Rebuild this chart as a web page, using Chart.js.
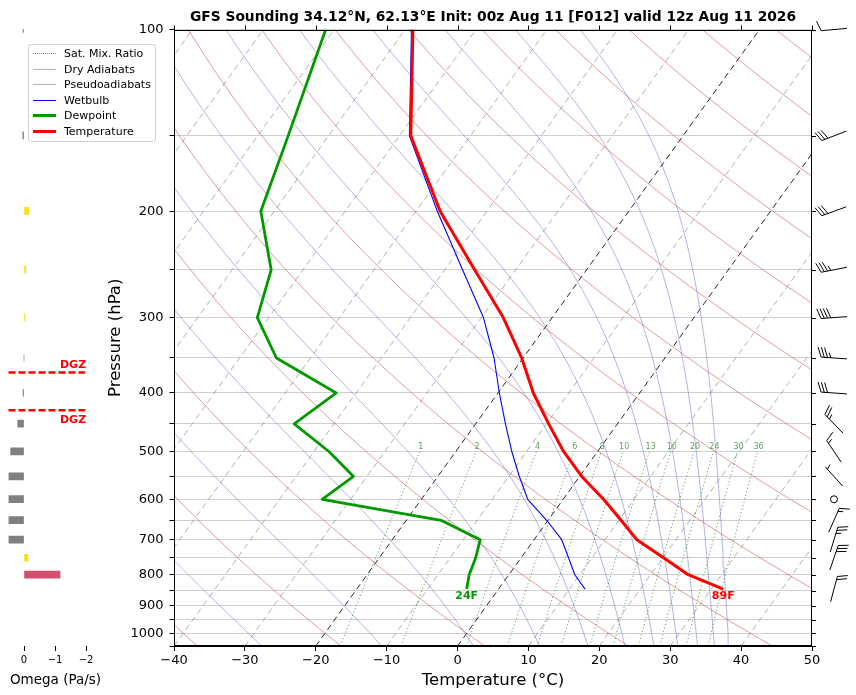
<!DOCTYPE html>
<html>
<head>
<meta charset="utf-8">
<title>GFS Sounding</title>
<script src="https://cdn.jsdelivr.net/npm/chart.js@4.4.1/dist/chart.umd.min.js"></script>
<style>
  html, body { margin: 0; padding: 0; background: #fff; }
  #wrap { position: relative; width: 856px; height: 695px; font-family: "DejaVu Sans", sans-serif; }
  #omega, #skewt { position: absolute; left: 0; top: 0; }
  #legend {
    position: absolute; left: 28px; top: 44px; width: 126px; height: 95px;
    border: 1px solid #cfcfcf; border-radius: 3px; background: rgba(255,255,255,0.85);
    padding-top: 1px; box-sizing: content-box; z-index: 5;
  }
  .row { display: flex; align-items: center; height: 15.5px; font-size: 11px; color: #000; }
  .sample { margin-left: 4px; width: 23px; height: 0; }
  .row span { margin-left: 8px; white-space: nowrap; }
</style>
</head>
<body>
<div id="wrap">
  <canvas id="omega" width="110" height="695"></canvas>
  <canvas id="skewt" width="856" height="695"></canvas>
  <div id="legend"></div>
</div>
<script>
// ---- sounding data ----
const levels      = [845, 800, 750, 700, 650, 600, 550, 500, 450, 400, 350, 300, 250, 200, 150, 100];
const temperature = [31.7, 25.3, 20.1, 14.5, 10.3, 5.7, 0.3, -4.8, -9.7, -15.0, -20.2, -26.9, -35.8, -46.6, -58.4, -68.9];
const dewpoint    = [-4.5, -5.6, -6.4, -7.6, -15.1, -34.0, -31.9, -37.9, -45.6, -42.8, -54.8, -61.6, -64.5, -71.9, -75.7, -81.2];
const wetbulb     = [12.2, 9.3, 6.7, 3.9, -0.2, -5.0, -8.5, -12.1, -15.8, -19.8, -24.1, -29.7, -37.5, -47.0, -58.6, -69.1];

// omega (Pa/s)
const omegaLevels = [100, 150, 200, 250, 300, 350, 400, 450, 500, 550, 600, 650, 700, 750, 800];
const omegaValues = [0.03, 0.04, -0.16, -0.06, -0.03, 0, 0.03, 0.2, 0.43, 0.5, 0.5, 0.5, 0.5, -0.13, -1.16];

// winds (deg, kt)
const windLevels = [100, 150, 200, 250, 300, 350, 400, 450, 500, 550, 600, 650, 700, 750, 845];
const windDir    = [265, 249, 250, 259, 266, 274, 274, 316, 326, 318, 0, 24, 17, 19, 15];
const windSpeed  = [10, 30, 30, 35, 40, 35, 30, 25, 15, 5, 0, 15, 25, 30, 20];

// ---- axes / reference lines ----
const tempTicks = [-40, -30, -20, -10, 0, 10, 20, 30, 40, 50];
const pressureTicks = [100, 150, 200, 250, 300, 350, 400, 450, 500, 550, 600, 650, 700, 750, 800, 850, 900, 950, 1000, 1050];
const omegaTicks = [0, -1, -2];
const isotherms = [-120, -110, -100, -90, -80, -70, -60, -50, -40, -30, -10, 10, 20, 30, 40, 50];
const keyIsotherms = [-20, 0];
const dryAdiabatT0 = [-40, -20, 0, 20, 40, 60, 80, 100, 120, 140, 160, 180, 200, 220, 240, 260];
const pseudoThetaE = [-50, -30, -10, 10, 30, 50, 70, 90, 110, 130, 150, 170];
const mixingRatios = [1, 2, 4, 6, 8, 10, 13, 16, 20, 24, 30, 36];
const dgzTemps = [-12, -18];

const TITLE = 'GFS Sounding 34.12°N, 62.13°E Init: 00z Aug 11 [F012] valid 12z Aug 11 2026';
const FONT = '"DejaVu Sans", sans-serif';
const P_TOP = 100;
const P_BOTTOM = 1050;
const MIX_TOP = 500;
const SKEW = 61.3;   // deg C of shift per decade of pressure

Chart.defaults.font.family = FONT;
Chart.defaults.color = '#000';

function skewX(t, p) {
  return t + SKEW * Math.log10(P_BOTTOM / p);
}

function logSpaced(p0, p1, n) {
  const out = [];
  for (let i = 0; i < n; i++) out.push(p0 * Math.pow(p1 / p0, i / (n - 1)));
  return out;
}

function minusSign(v) {
  return v < 0 ? '\u2212' + Math.abs(v) : String(v);
}

function satVapor(tc) {
  return 6.112 * Math.exp(17.67 * tc / (tc + 243.5));
}

function thetaESat(tK, p) {
  const es = satVapor(tK - 273.15);
  if (es >= p) return Infinity;
  const r = 622 * es / (p - es);
  return tK * Math.pow(1000 / p, 0.2854 * (1 - 0.00028 * r)) *
    Math.exp((3.376 / tK - 0.00254) * r * (1 + 0.00081 * r));
}

function tempOnPseudo(thetaEK, p) {
  let lo = 120, hi = 360;
  for (let k = 0; k < 50; k++) {
    const mid = (lo + hi) / 2;
    if (thetaESat(mid, p) > thetaEK) hi = mid; else lo = mid;
  }
  return (lo + hi) / 2 - 273.15;
}

function dewFromMixing(wgkg, p) {
  const w = wgkg / 1000;
  const e = w * p / (0.622 + w);
  const l = Math.log(e / 6.112);
  return 243.5 * l / (17.67 - l);
}

function pressureAtTemp(target) {
  for (let i = 0; i < levels.length - 1; i++) {
    const t0 = temperature[i], t1 = temperature[i + 1];
    if ((t0 - target) * (t1 - target) <= 0 && t0 !== t1) {
      const f = (target - t0) / (t1 - t0);
      const l0 = Math.log10(levels[i]), l1 = Math.log10(levels[i + 1]);
      return Math.pow(10, l0 + f * (l1 - l0));
    }
  }
  return null;
}

function omegaColor(v) {
  if (v >= 0) return '#808080';
  if (v > -0.5) return '#f5e11e';
  return '#d4506e';
}

function toF(c) {
  return Math.round(c * 9 / 5 + 32) + 'F';
}

const REF_P = logSpaced(P_BOTTOM, P_TOP, 48);
const MIX_P = logSpaced(P_BOTTOM, MIX_TOP, 12);

function lineSet(points, color, width, dash, order) {
  return {
    data: points, borderColor: color, borderWidth: width, borderDash: dash || [],
    pointRadius: 0, fill: false, tension: 0, clip: 0, order: order,
    borderJoinStyle: 'round'
  };
}

const datasets = [];

// sounding profiles
datasets.push(lineSet(levels.map((p, i) => ({ x: skewX(temperature[i], p), y: p })), '#ff0000', 3, null, 0));
datasets.push(lineSet(levels.map((p, i) => ({ x: skewX(dewpoint[i], p), y: p })), '#009a00', 2.8, null, 1));
datasets.push(lineSet(levels.map((p, i) => ({ x: skewX(wetbulb[i], p), y: p })), '#0000ff', 1.1, null, 2));

// mixing ratio lines
mixingRatios.forEach(w => {
  datasets.push(lineSet(MIX_P.map(p => ({ x: skewX(dewFromMixing(w, p), p), y: p })),
    'rgba(0,128,0,0.65)', 1, [1.2, 2.4], 3));
});

// moist (pseudo) adiabats
pseudoThetaE.forEach(th => {
  const thK = th + 273.15;
  datasets.push(lineSet(REF_P.map(p => ({ x: skewX(tempOnPseudo(thK, p), p), y: p })),
    'rgba(70,70,200,0.45)', 0.9, null, 4));
});

// dry adiabats
dryAdiabatT0.forEach(t0 => {
  const th = t0 + 273.15;
  datasets.push(lineSet(REF_P.map(p => ({ x: skewX(th * Math.pow(p / 1000, 0.2857) - 273.15, p), y: p })),
    'rgba(200,60,60,0.5)', 1, null, 4));
});

// isotherms
isotherms.forEach(t => {
  datasets.push(lineSet([P_BOTTOM, P_TOP].map(p => ({ x: skewX(t, p), y: p })),
    'rgba(120,120,120,0.65)', 0.9, [6, 4], 5));
});
keyIsotherms.forEach(t => {
  datasets.push(lineSet([P_BOTTOM, P_TOP].map(p => ({ x: skewX(t, p), y: p })),
    '#111', 0.9, [6, 4], 5));
});

function drawBarb(ctx, cx, cy, dirDeg, speed) {
  const L = 26, spacing = 3.25, full = 9.8, lean = 3.6;
  ctx.save();
  ctx.strokeStyle = '#000';
  ctx.lineWidth = 1;
  let s = Math.round(speed / 5) * 5;
  if (s < 5) {
    ctx.beginPath();
    ctx.arc(cx, cy, 3.5, 0, Math.PI * 2);
    ctx.stroke();
    ctx.restore();
    return;
  }
  const a = dirDeg * Math.PI / 180;
  const ux = Math.sin(a), uy = -Math.cos(a);
  const px = -uy, py = ux;
  const tipX = cx + ux * L / 2, tipY = cy + uy * L / 2;
  ctx.beginPath();
  ctx.moveTo(cx - ux * L / 2, cy - uy * L / 2);
  ctx.lineTo(tipX, tipY);
  const flags = Math.floor(s / 50); s -= flags * 50;
  const fulls = Math.floor(s / 10); s -= fulls * 10;
  const half = s >= 5;
  let d = 0;
  for (let i = 0; i < flags; i++) {
    const bx = tipX - ux * d, by = tipY - uy * d;
    ctx.moveTo(bx, by);
    ctx.lineTo(bx + px * full + ux * lean, by + py * full + uy * lean);
    ctx.lineTo(bx - ux * 6.5, by - uy * 6.5);
    d += 6.5 + spacing;
  }
  for (let i = 0; i < fulls; i++) {
    const bx = tipX - ux * d, by = tipY - uy * d;
    ctx.moveTo(bx, by);
    ctx.lineTo(bx + px * full + ux * lean, by + py * full + uy * lean);
    d += spacing;
  }
  if (half) {
    if (flags + fulls === 0) d += spacing;
    const bx = tipX - ux * d, by = tipY - uy * d;
    ctx.moveTo(bx, by);
    ctx.lineTo(bx + px * full / 2 + ux * lean / 2, by + py * full / 2 + uy * lean / 2);
  }
  ctx.stroke();
  ctx.restore();
}

const skewDecor = {
  id: 'skewDecor',
  afterDraw(chart) {
    const ctx = chart.ctx;
    const { left, right, top, bottom } = chart.chartArea;
    const xs = chart.scales.x, ys = chart.scales.y;
    ctx.save();
    // frame and outer ticks
    ctx.strokeStyle = '#000';
    ctx.lineWidth = 1;
    const l = Math.round(left) + 0.5, r = Math.round(right) - 0.5;
    const t = Math.round(top) + 0.5, b = Math.round(bottom) - 0.5;
    ctx.strokeRect(l, t, r - l, b - t);
    ctx.beginPath();
    tempTicks.forEach(v => {
      const x = Math.round(xs.getPixelForValue(v)) + 0.5;
      ctx.moveTo(x, t); ctx.lineTo(x, t - 5);
    });
    pressureTicks.forEach(p => {
      const y = Math.round(ys.getPixelForValue(p)) + 0.5;
      ctx.moveTo(r, y); ctx.lineTo(r + 4.5, y);
    });
    ctx.stroke();

    // mixing ratio labels
    ctx.font = '8px ' + FONT;
    ctx.fillStyle = 'rgba(40,130,40,0.75)';
    ctx.textAlign = 'center';
    ctx.textBaseline = 'bottom';
    const yMix = ys.getPixelForValue(MIX_TOP);
    mixingRatios.forEach(w => {
      const x = xs.getPixelForValue(skewX(dewFromMixing(w, MIX_TOP), MIX_TOP));
      ctx.fillText(String(w), x + 1, yMix - 0.5);
    });

    // surface labels
    ctx.font = 'bold 11px ' + FONT;
    ctx.textBaseline = 'top';
    const ySfc = ys.getPixelForValue(levels[0]);
    ctx.fillStyle = '#009a00';
    ctx.fillText(toF(dewpoint[0]), xs.getPixelForValue(skewX(dewpoint[0], levels[0])), ySfc + 2);
    ctx.fillStyle = '#ff0000';
    ctx.fillText(toF(temperature[0]), xs.getPixelForValue(skewX(temperature[0], levels[0])), ySfc + 2);

    // wind barbs
    const bx = right + 22;
    windLevels.forEach((p, i) => {
      drawBarb(ctx, bx, ys.getPixelForValue(p), windDir[i], windSpeed[i]);
    });
    ctx.restore();
  }
};

new Chart(document.getElementById('skewt'), {
  type: 'line',
  data: { datasets: datasets },
  options: {
    responsive: false,
    animation: false,
    events: [],
    layout: { padding: { left: 103, right: 44, top: 0, bottom: 0 } },
    plugins: {
      legend: { display: false },
      tooltip: { enabled: false },
      title: {
        display: true, text: TITLE, fullSize: false, color: '#000',
        font: { family: FONT, size: 13.8, weight: 'bold' },
        padding: { top: 9.5, bottom: 3.5 }
      }
    },
    scales: {
      x: {
        type: 'linear', min: -40, max: 50,
        afterBuildTicks: s => { s.ticks = tempTicks.map(v => ({ value: v })); },
        afterFit: s => { s.height = 49; },
        grid: { drawOnChartArea: false, drawTicks: true, tickLength: 5, color: '#000' },
        border: { display: true, color: '#000', width: 1 },
        ticks: { font: { size: 13 }, color: '#000', padding: 2, maxRotation: 0, autoSkip: false, callback: v => minusSign(v) },
        title: { display: true, text: 'Temperature (°C)', font: { size: 16.5 }, color: '#000', padding: { top: 0, bottom: 4 } }
      },
      y: {
        type: 'logarithmic', reverse: true, min: P_TOP, max: P_BOTTOM,
        afterBuildTicks: s => { s.ticks = pressureTicks.map(v => ({ value: v })); },
        afterFit: s => { s.width = 71; },
        grid: { color: '#cfcfcf', lineWidth: 1, tickColor: '#000', tickLength: 4.5, drawTicks: true },
        border: { display: true, color: '#000', width: 1 },
        ticks: {
          font: { size: 13 }, color: '#000', padding: 6, autoSkip: false,
          callback: v => (v % 100 === 0 && v <= 1000) ? String(v) : ''
        },
        title: { display: true, text: 'Pressure (hPa)', font: { size: 16.5 }, color: '#000', padding: { top: 3, bottom: 4 } }
      }
    }
  },
  plugins: [skewDecor]
});

// ---- omega panel ----
const dgzPlugin = {
  id: 'dgz',
  afterDatasetsDraw(chart) {
    const ctx = chart.ctx;
    const xs = chart.scales.x, ys = chart.scales.y;
    const x0 = chart.chartArea.left;
    const x1 = xs.getPixelForValue(-1.97);
    ctx.save();
    ctx.strokeStyle = '#ff0000';
    ctx.fillStyle = '#ff0000';
    ctx.lineWidth = 2.5;
    ctx.setLineDash([7, 3]);
    ctx.font = 'bold 11px ' + FONT;
    ctx.textAlign = 'right';
    ctx.textBaseline = 'middle';
    dgzTemps.forEach(t => {
      const p = pressureAtTemp(t);
      if (!p) return;
      const y = ys.getPixelForValue(p);
      ctx.beginPath();
      ctx.moveTo(x0, y);
      ctx.lineTo(x1, y);
      ctx.stroke();
      const below = t === Math.max(...dgzTemps);
      ctx.fillText('DGZ', x1 + 1, below ? y + 9.5 : y - 7.5);
    });
    ctx.restore();
  }
};

new Chart(document.getElementById('omega'), {
  type: 'bar',
  data: {
    datasets: [{
      data: omegaLevels.map((p, i) => ({ x: omegaValues[i], y: p })),
      backgroundColor: omegaValues.map(omegaColor),
      borderWidth: 0,
      barThickness: 7,
      clip: 0
    }]
  },
  options: {
    indexAxis: 'y',
    responsive: false,
    animation: false,
    events: [],
    layout: { padding: { left: 8.5, right: 7.5, top: 29, bottom: 0 } },
    plugins: { legend: { display: false }, tooltip: { enabled: false } },
    scales: {
      x: {
        type: 'linear', min: -2.53, max: 0.5, reverse: true,
        afterBuildTicks: s => { s.ticks = omegaTicks.map(v => ({ value: v })); },
        afterFit: s => { s.height = 49; },
        grid: { drawOnChartArea: false, drawTicks: true, tickLength: 5, color: '#000' },
        border: { display: false },
        ticks: { font: { size: 10 }, color: '#000', padding: 3, maxRotation: 0, autoSkip: false, callback: v => minusSign(v) },
        title: { display: true, text: 'Omega (Pa/s)', font: { size: 13.5 }, color: '#000', padding: { top: 0, bottom: 6.5 } }
      },
      y: { type: 'logarithmic', reverse: true, min: P_TOP, max: P_BOTTOM, display: false, offset: false }
    }
  },
  plugins: [dgzPlugin]
});

// ---- legend ----
const legendEntries = [
  { label: 'Sat. Mix. Ratio', style: '1.5px dotted rgba(0,128,0,0.65)' },
  { label: 'Dry Adiabats', style: '1.2px solid rgba(200,60,60,0.45)' },
  { label: 'Pseudoadiabats', style: '1.2px solid rgba(70,70,200,0.45)' },
  { label: 'Wetbulb', style: '1.3px solid #0000ff' },
  { label: 'Dewpoint', style: '3px solid #009a00' },
  { label: 'Temperature', style: '3px solid #ff0000' }
];
const legendBox = document.getElementById('legend');
legendEntries.forEach(e => {
  const row = document.createElement('div');
  row.className = 'row';
  const sample = document.createElement('div');
  sample.className = 'sample';
  sample.style.borderTop = e.style;
  const text = document.createElement('span');
  text.textContent = e.label;
  row.appendChild(sample);
  row.appendChild(text);
  legendBox.appendChild(row);
});
</script>
</body>
</html>
